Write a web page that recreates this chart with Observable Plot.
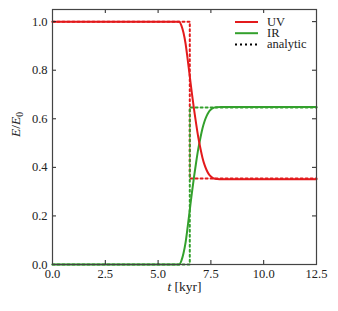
<!DOCTYPE html>
<html>
<head>
<meta charset="utf-8">
<script src="https://cdn.jsdelivr.net/npm/d3@7"></script>
<script src="https://cdn.jsdelivr.net/npm/@observablehq/plot@0.6"></script>
<style>
  html, body { margin: 0; padding: 0; background: #fff; }
  #wrap { position: relative; width: 338px; height: 311px; }
</style>
</head>
<body>
<div id="wrap"></div>
<script>
// ---- data ----
const tNum = [0, 6.0, 6.1, 6.2, 6.3, 6.4, 6.5, 6.6, 6.7, 6.8, 6.9, 7.0, 7.1, 7.2, 7.3, 7.4, 7.5, 7.6, 7.7, 7.8, 8.0, 12.5];
const irNum = [0, 0, 0.015, 0.045, 0.09, 0.155, 0.225, 0.295, 0.36, 0.42, 0.475, 0.52, 0.56, 0.59, 0.612, 0.628, 0.638, 0.644, 0.647, 0.648, 0.649, 0.649];
const uvNum = [1, 1, 0.985, 0.955, 0.91, 0.845, 0.775, 0.705, 0.64, 0.58, 0.525, 0.48, 0.44, 0.41, 0.388, 0.372, 0.362, 0.356, 0.353, 0.352, 0.351, 0.351];
const tAna = [0, 6.5, 6.5, 12.5];
const uvAna = [1, 1, 0.354, 0.354];
const irAna = [0, 0, 0.646, 0.646];
const xTicks = [0, 2.5, 5, 7.5, 10, 12.5];
const yTicks = [0, 0.2, 0.4, 0.6, 0.8, 1.0];
const seriesNames = ["UV", "IR", "analytic"];
const colors = {UV: "#e31a1c", IR: "#33a02c", analytic: "#000"};

const num = (vals) => tNum.map((t, i) => ({t, v: vals[i]}));
const ana = (vals) => tAna.map((t, i) => ({t, v: vals[i]}));

const FONT = "'Liberation Serif', 'DejaVu Serif', serif";
const fmt = d3.format(".1f");
const FS = 12.5;
const dotted = "2,3";
const W = 338, H = 311, ML = 52, MR = 22, MT = 9, MB = 47;
const FW = W - ML - MR, FH = H - MT - MB, TL = 4;

const plot = Plot.plot({
  width: W,
  height: H,
  marginLeft: ML,
  marginRight: MR,
  marginTop: MT,
  marginBottom: MB,
  style: {fontFamily: FONT, fontSize: FS + "px", background: "#fff"},
  x: {domain: [0, 12.5]},
  y: {domain: [0, 1.05]},
  marks: [
    Plot.line(ana(uvAna), {x: "t", y: "v", stroke: colors.UV, strokeWidth: 2, strokeDasharray: dotted}),
    Plot.line(ana(irAna), {x: "t", y: "v", stroke: colors.IR, strokeWidth: 2, strokeDasharray: dotted}),
    Plot.line(num(irNum), {x: "t", y: "v", stroke: colors.IR, strokeWidth: 2, curve: "monotone-x"}),
    Plot.line(num(uvNum), {x: "t", y: "v", stroke: colors.UV, strokeWidth: 2, curve: "monotone-x"}),
    // inward ticks on all four sides
    Plot.ruleX(xTicks, {x: d => d, insetTop: FH - TL, stroke: "#222", strokeWidth: 1}),
    Plot.ruleX(xTicks, {x: d => d, insetBottom: FH - TL, stroke: "#222", strokeWidth: 1}),
    Plot.ruleY(yTicks, {y: d => d, insetRight: FW - TL, stroke: "#222", strokeWidth: 1}),
    Plot.ruleY(yTicks, {y: d => d, insetLeft: FW - TL, stroke: "#222", strokeWidth: 1}),
    Plot.axisX(xTicks, {anchor: "bottom", tickSize: 0, tickPadding: 5, tickFormat: fmt, label: null, fontSize: FS, fill: "#222"}),
    Plot.axisY(yTicks, {anchor: "left", tickSize: 0, tickPadding: 5, tickFormat: fmt, label: null, fontSize: FS, fill: "#222"}),
    Plot.frame({stroke: "#444", strokeWidth: 1.2}),
    Plot.text([0], {frameAnchor: "bottom", text: () => "t [kyr]", dy: 26, fontSize: 13.5, fill: "#222", className: "xlab"}),
    Plot.text([0], {frameAnchor: "left", text: () => "E/E0", dx: -37, rotate: -90, fontSize: 13.5, fill: "#222", className: "ylab"})
  ]
});

document.getElementById("wrap").appendChild(plot);

const svg = d3.select(plot);
svg.attr("font-family", FONT);
svg.selectAll("text").attr("font-family", FONT);

// rich-text axis labels
const xl = svg.select(".xlab text");
xl.text(null);
xl.append("tspan").attr("font-style", "italic").text("t");
xl.append("tspan").text(" [kyr]");
const yl = svg.select(".ylab text");
yl.text(null);
yl.append("tspan").attr("font-style", "italic").text("E");
yl.append("tspan").text("/");
yl.append("tspan").attr("font-style", "italic").text("E");
yl.append("tspan").attr("font-size", "9.5px").attr("dy", "3").text("0");

// legend inside the plot area
const lg = svg.append("g").attr("font-size", FS + "px").attr("font-family", FONT).attr("text-anchor", "start");
seriesNames.forEach((name, i) => {
  const y = 22 + i * 11.2;
  lg.append("line").attr("x1", 235).attr("x2", 258).attr("y1", y).attr("y2", y)
    .attr("stroke", colors[name]).attr("stroke-width", 2)
    .attr("stroke-dasharray", name === "analytic" ? dotted : null);
  lg.append("text").attr("x", 267).attr("y", y + 4).attr("fill", "#222").attr("text-anchor", "start").text(name);
});
</script>
</body>
</html>
